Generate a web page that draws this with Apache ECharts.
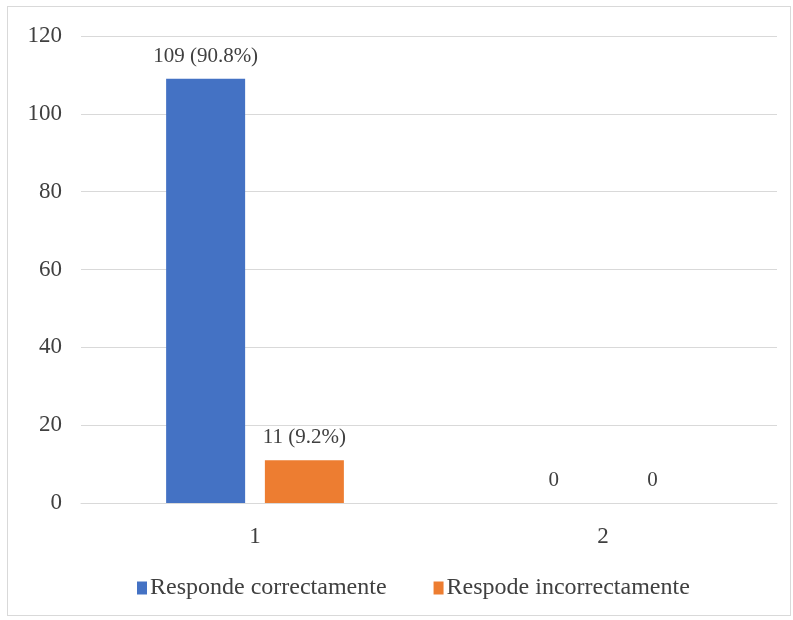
<!DOCTYPE html>
<html>
<head>
<meta charset="utf-8">
<script src="https://cdn.jsdelivr.net/npm/echarts@6/dist/echarts.min.js"></script>
<style>
  html, body { margin: 0; padding: 0; background: #fff; }
  #main { position: absolute; left: 7px; top: 6px; width: 782px; height: 608px;
          border: 1px solid #d9d9d9; }
</style>
</head>
<body>
<div id="main"></div>
<script>
// datos del grafico
var categories = ['1', '2'];
var correctValues = [109, 0];
var incorrectValues = [11, 0];
var correctLabels = ['109 (90.8%)', '0'];
var incorrectLabels = ['11 (9.2%)', '0'];

var font = '"Liberation Serif", "Times New Roman", serif';
var textColor = '#404040';

var myChart = echarts.init(document.getElementById('main'));

var option = {
    animation: false,
    grid: {
        left: 73,
        right: 13,
        top: 29,
        bottom: 112
    },
    legend: {
        bottom: 10,
        left: 124,
        itemWidth: 10,
        itemHeight: 13,
        itemGap: 47,
        icon: 'rect',
        textStyle: { fontFamily: font, fontSize: 24, color: textColor, padding: [0, 0, 0, -2] }
    },
    xAxis: {
        type: 'category',
        data: categories,
        axisLine: { lineStyle: { color: '#d9d9d9', width: 1 } },
        axisTick: { show: false },
        axisLabel: { fontFamily: font, fontSize: 23, color: textColor, margin: 22 }
    },
    yAxis: {
        type: 'value',
        min: 0,
        max: 120,
        interval: 20,
        axisLine: { show: false },
        axisTick: { show: false },
        splitLine: { lineStyle: { color: '#d9d9d9', width: 1 } },
        axisLabel: { fontFamily: font, fontSize: 23, color: textColor, margin: 19 }
    },
    series: [
        {
            name: 'Responde correctamente',
            type: 'bar',
            barWidth: 79,
            barGap: '25%',
            itemStyle: { color: '#4472C4' },
            data: correctValues,
            label: {
                show: true,
                position: 'top',
                distance: 12,
                fontFamily: font,
                fontSize: 21,
                color: textColor,
                formatter: function (p) { return correctLabels[p.dataIndex]; }
            }
        },
        {
            name: 'Respode incorrectamente',
            type: 'bar',
            barWidth: 79,
            itemStyle: { color: '#ED7D31' },
            data: incorrectValues,
            label: {
                show: true,
                position: 'top',
                distance: 12,
                fontFamily: font,
                fontSize: 21,
                color: textColor,
                formatter: function (p) { return incorrectLabels[p.dataIndex]; }
            }
        }
    ]
};
myChart.setOption(option);
</script>
</body>
</html>
